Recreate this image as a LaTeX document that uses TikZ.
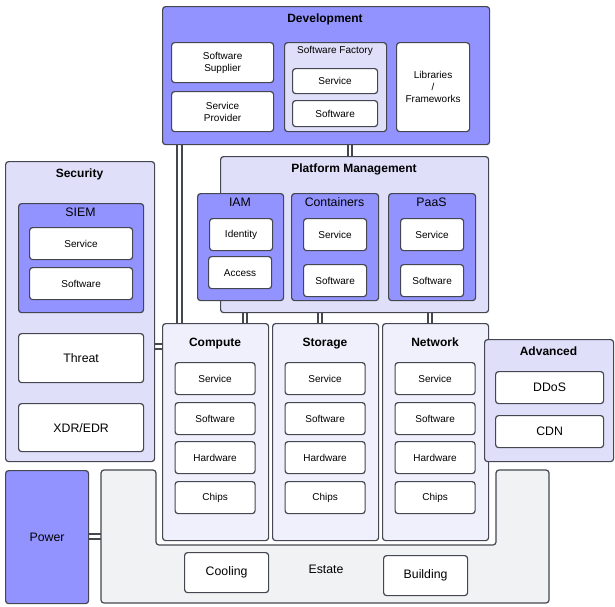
\documentclass[tikz,border=0pt]{standalone}
\usepackage{fontspec}
\setmainfont{Liberation Sans}
\usetikzlibrary{positioning}
\pgfdeclarelayer{bg}
\pgfsetlayers{bg,main}
\definecolor{edge}{RGB}{68,71,80}
\definecolor{deep}{RGB}{147,147,255}
\definecolor{pale}{RGB}{223,223,250}
\definecolor{faint}{RGB}{240,240,253}
\definecolor{estgrey}{RGB}{241,242,244}
\tikzset{
  wall/.style={draw=edge, line width=1.2pt, rounded corners=3pt},
  box/.style={wall, anchor=north west, inner sep=0pt, align=center},
  sz/.style 2 args={minimum width=#1pt, minimum height=#2pt},
  tile/.style={box, fill=white, font=\fontsize{10}{12}\selectfont},
  big/.style={font=\fontsize{12.3}{14}\selectfont},
  head/.style={inner sep=0pt, text height=8.8pt, text depth=2.6pt, font=\fontsize{12}{14}\selectfont\bfseries},
  subhead/.style={inner sep=0pt, text height=8.8pt, text depth=2.6pt, font=\fontsize{12.3}{14}\selectfont},
  link/.style={draw=edge, line width=2pt, double=white, double distance=2.4pt},
}
\begin{document}
\begin{tikzpicture}[x=1pt,y=-1pt]
  \useasboundingbox (0,0) rectangle (615,606);
  % estate and power
  \draw[wall, fill=estgrey] (101,470) -- (156,470) -- (156,545) -- (496,545) -- (496,470)
    -- (549,470) -- (549,603) -- (101,603) -- cycle;
  \coordinate (estL) at (101,536.5);
  \node[big, inner sep=0pt] (estT) at (326,569) {Estate};
  \node[tile, big, sz={84}{40}] (cool) at (184,552) {Cooling};
  \node[tile, big, sz={84}{40}] (bld) at (383,555) {Building};
  \node[box, fill=deep, big, sz={83}{133}] (pow) at (5,470) {Power};
  % development
  \node[box, fill=deep, sz={327}{138}] (dev) at (162,6) {};
  \node[head] (devT) at (325,19) {Development};
  \node[tile, sz={102}{40}] (sup) at (171,42) {Software\\Supplier};
  \node[tile, sz={102}{40}] (prov) at (171,91) {Service\\Provider};
  \node[box, fill=pale, sz={102}{89}] (fac) at (284,42) {};
  \node[inner sep=0pt, font=\fontsize{10}{12}\selectfont] (facT) at (335,51) {Software Factory};
  \node[tile, sz={85}{25}] (facSvc) at (292,68) {Service};
  \node[tile, sz={85}{26}] (facSw) at (292,100) {Software};
  \node[tile, sz={73}{89}] (lib) at (396,42) {Libraries\\/\\Frameworks};
  % platform management
  \node[box, fill=pale, sz={268}{156}] (plat) at (220,156) {};
  \node[head] (platT) at (354,169) {Platform Management};
  \node[box, fill=deep, sz={86}{107}] (iam) at (197,193) {};
  \node[subhead] (iam-t) at (240,203) {IAM};
  \node[tile, sz={63}{32}] (iam-1) at (209,218) {Identity};
  \node[tile, sz={63}{32}] (iam-2) at (208,256) {Access};
  \foreach \n/\t/\x in {ctr/Containers/291, paas/PaaS/388} {
    \node[box, fill=deep, sz={87}{107}] (\n) at (\x,193) {};
    \node[subhead] (\n-t) at (\x+43.5,203) {\t};
    \node[tile, sz={63}{32}] (\n-1) at (\x+12,218) {Service};
    \node[tile, sz={63}{32}] (\n-2) at (\x+12,264) {Software};
  }
  % security
  \node[box, fill=pale, sz={149}{300}] (sec) at (5,161) {};
  \node[head] (secT) at (79.5,174) {Security};
  \node[box, fill=deep, sz={125}{109}] (siem) at (18,203) {};
  \node[subhead] (siem-t) at (80.5,213) {SIEM};
  \node[tile, sz={103}{32}] (siem-1) at (29,227) {Service};
  \node[tile, sz={103}{32}] (siem-2) at (29,267) {Software};
  \node[tile, big, sz={125}{49}] (thr) at (18,333) {Threat};
  \node[tile, big, sz={125}{48}] (xdr) at (18,403) {XDR/EDR};
  % compute, storage, network
  \foreach \n/\t/\x in {comp/Compute/162, stor/Storage/272, net/Network/382} {
    \node[box, fill=faint, sz={106}{217}] (\n) at (\x,323) {};
    \node[head] (\n-t) at (\x+53,343) {\t};
    \foreach \i/\s/\y in {1/Service/362, 2/Software/402, 3/Hardware/441, 4/Chips/481}
      \node[tile, sz={80}{32}] (\n-\i) at (\x+12.5,\y) {\s};
  }
  % advanced
  \node[box, fill=pale, sz={129}{122}] (adv) at (484,339) {};
  \node[head] (advT) at (548.5,352) {Advanced};
  \node[tile, big, sz={108}{32}] (ddos) at (495,371) {DDoS};
  \node[tile, big, sz={108}{32}] (cdn) at (495,415) {CDN};
  % links
  \coordinate (xDC) at (179.5,0);
  \coordinate (xDP) at (350,0);
  \coordinate (ySC) at (0,346.5);
  \begin{pgfonlayer}{bg}
    \draw[link] (dev.south -| xDC) -- (comp.north -| xDC);
    \draw[link] (dev.south -| xDP) -- (plat.north -| xDP);
    \draw[link] (sup) -- (prov);
    \foreach \n/\x in {comp/245, stor/320, net/430} {
      \coordinate (x-\n) at (\x,0);
      \draw[link] (plat.south -| x-\n) -- (\n.north -| x-\n);
    }
    \draw[link] (sec.east |- ySC) -- (comp.west |- ySC);
    \draw[link] (pow.east |- estL) -- (estL);
  \end{pgfonlayer}
\end{tikzpicture}
\end{document}
